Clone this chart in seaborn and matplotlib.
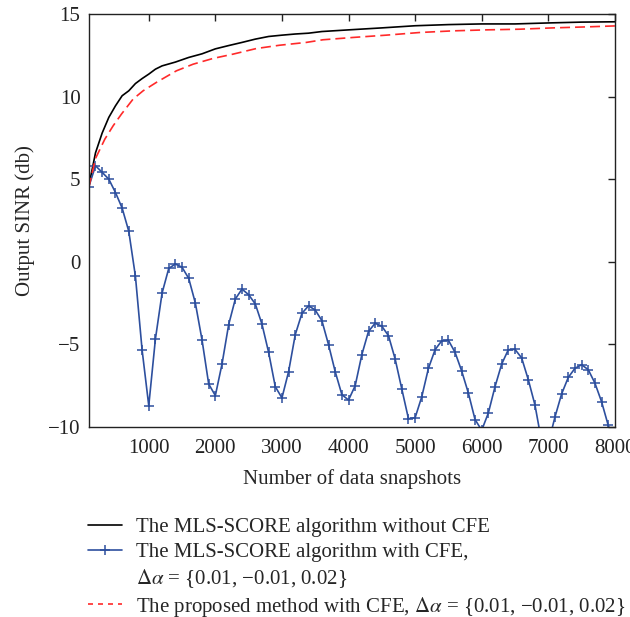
import numpy as np
import seaborn as sns
import matplotlib.pyplot as plt
from matplotlib.lines import Line2D

# black: MLS-SCORE without CFE
x_black = [100, 200, 300, 400, 500, 600, 700, 800, 900, 1000, 1100, 1200, 1400, 1600,
           1800, 2000, 2200, 2400, 2600, 2800, 3000, 3200, 3400, 3600, 4000, 4500,
           5000, 5500, 6000, 6500, 7000, 7500, 8000]
y_black = [4.6, 6.6, 7.8, 8.75, 9.45, 10.06, 10.36, 10.8, 11.1, 11.37, 11.67, 11.87, 12.1,
           12.38, 12.6, 12.9, 13.1, 13.29, 13.49, 13.65, 13.73, 13.8, 13.85, 13.95, 14.05,
           14.17, 14.3, 14.37, 14.41, 14.41, 14.47, 14.52, 14.54]

# red dashed: proposed method
x_red = [100, 200, 340, 465, 590, 765, 915, 1115, 1415, 1665, 1965, 2265, 2615, 2965,
         3365, 3615, 4065, 4565, 5065, 5565, 6065, 6565, 7065, 7565, 8000]
y_red = [4.5, 6.26, 7.43, 8.24, 8.95, 9.86, 10.36, 10.87, 11.57, 11.97, 12.32, 12.58,
         12.92, 13.12, 13.29, 13.45, 13.59, 13.73, 13.89, 13.99, 14.05, 14.09, 14.17,
         14.23, 14.29]

# blue: MLS-SCORE with CFE (markers every 100 snapshots)
x_blue = list(range(100, 8001, 100))
y_blue = [4.55, 5.82, 5.42, 5.01, 4.2, 3.26, 1.85, -0.88, -5.34, -8.71,
          -4.67, -1.89, -0.40, -0.13, -0.33, -1.0, -2.5, -4.73, -7.4, -8.1,
          -6.19, -3.8, -2.25, -1.65, -1.99, -2.55, -3.77, -5.48, -7.56, -8.24,
          -6.65, -4.41, -3.12, -2.66, -2.92, -3.56, -5.02, -6.65, -8.04, -8.37,
          -7.5, -5.62, -4.21, -3.72, -3.9, -4.47, -5.88, -7.7, -9.5, -9.44,
          -8.17, -6.45, -5.32, -4.78, -4.75, -5.48, -6.62, -7.95, -9.55, -10.2,
          -9.15, -7.56, -6.19, -5.32, -5.3, -5.82, -7.14, -8.67, -10.9, -11.0,
          -9.4, -8.0, -7.0, -6.45, -6.23, -6.53, -7.34, -8.47, -9.9, -11.0]

xticks = [1000, 2000, 3000, 4000, 5000, 6000, 7000, 8000]
yticks = [-10, -5, 0, 5, 10, 15]

blue = '#2d4f9e'
red = '#ff2a2a'

sns.set_style("white")
plt.rcParams['font.family'] = ['Liberation Serif', 'DejaVu Serif']
plt.rcParams['mathtext.fontset'] = 'stix'

fig = plt.figure(figsize=(6.3, 6.17), dpi=100)
ax = fig.add_axes([0.141, 0.308, 0.835, 0.669])

sns.lineplot(x=x_black, y=y_black, color='black', linewidth=1.2, ax=ax)
sns.lineplot(x=x_blue, y=y_blue, color=blue, linewidth=1.2, marker='+',
             markersize=6.5, markeredgewidth=1.1, markeredgecolor=blue, ax=ax)
sns.lineplot(x=x_red, y=y_red, color=red, linewidth=1.2, linestyle=(0, (6, 3)), ax=ax)

ax.set_xlim(100, 8000)
ax.set_ylim(-10, 15)
ax.set_xticks(xticks)
ax.set_yticks(yticks)
ax.set_yticklabels([str(v).replace('-', '\u2212') for v in yticks])
ax.tick_params(direction='in', top=True, right=True, length=5, width=1,
               labelsize=15, colors='#222222')
ax.tick_params(axis='x', pad=9)
ax.tick_params(axis='y', pad=6)
for s in ax.spines.values():
    s.set_linewidth(1.0)
    s.set_color('#222222')
ax.set_xlabel('Number of data snapshots', fontsize=15, labelpad=8)
ax.set_ylabel('Output SINR (db)', fontsize=15, labelpad=9)

delta = '$\\Delta\\alpha$ = {0.01, \u22120.01, 0.02}'
handles = [
    Line2D([], [], color='black', linewidth=1.2),
    Line2D([], [], color=blue, linewidth=1.2, marker='+', markersize=6.5, markeredgewidth=1.1),
    Line2D([], [], color='none'),
    Line2D([], [], color=red, linewidth=1.2, linestyle=(0, (3, 3))),
]
labels = [
    'The MLS-SCORE algorithm without CFE',
    'The MLS-SCORE algorithm with CFE,',
    delta,
    'The proposed method with CFE, ' + delta,
]
fig.legend(handles, labels, loc='upper left', bbox_to_anchor=(0.140, 0.161),
           frameon=False, fontsize=15, handlelength=1.6, handletextpad=0.7,
           labelspacing=0.24, borderpad=0, borderaxespad=0)

fig.savefig('out.png', dpi=100)
